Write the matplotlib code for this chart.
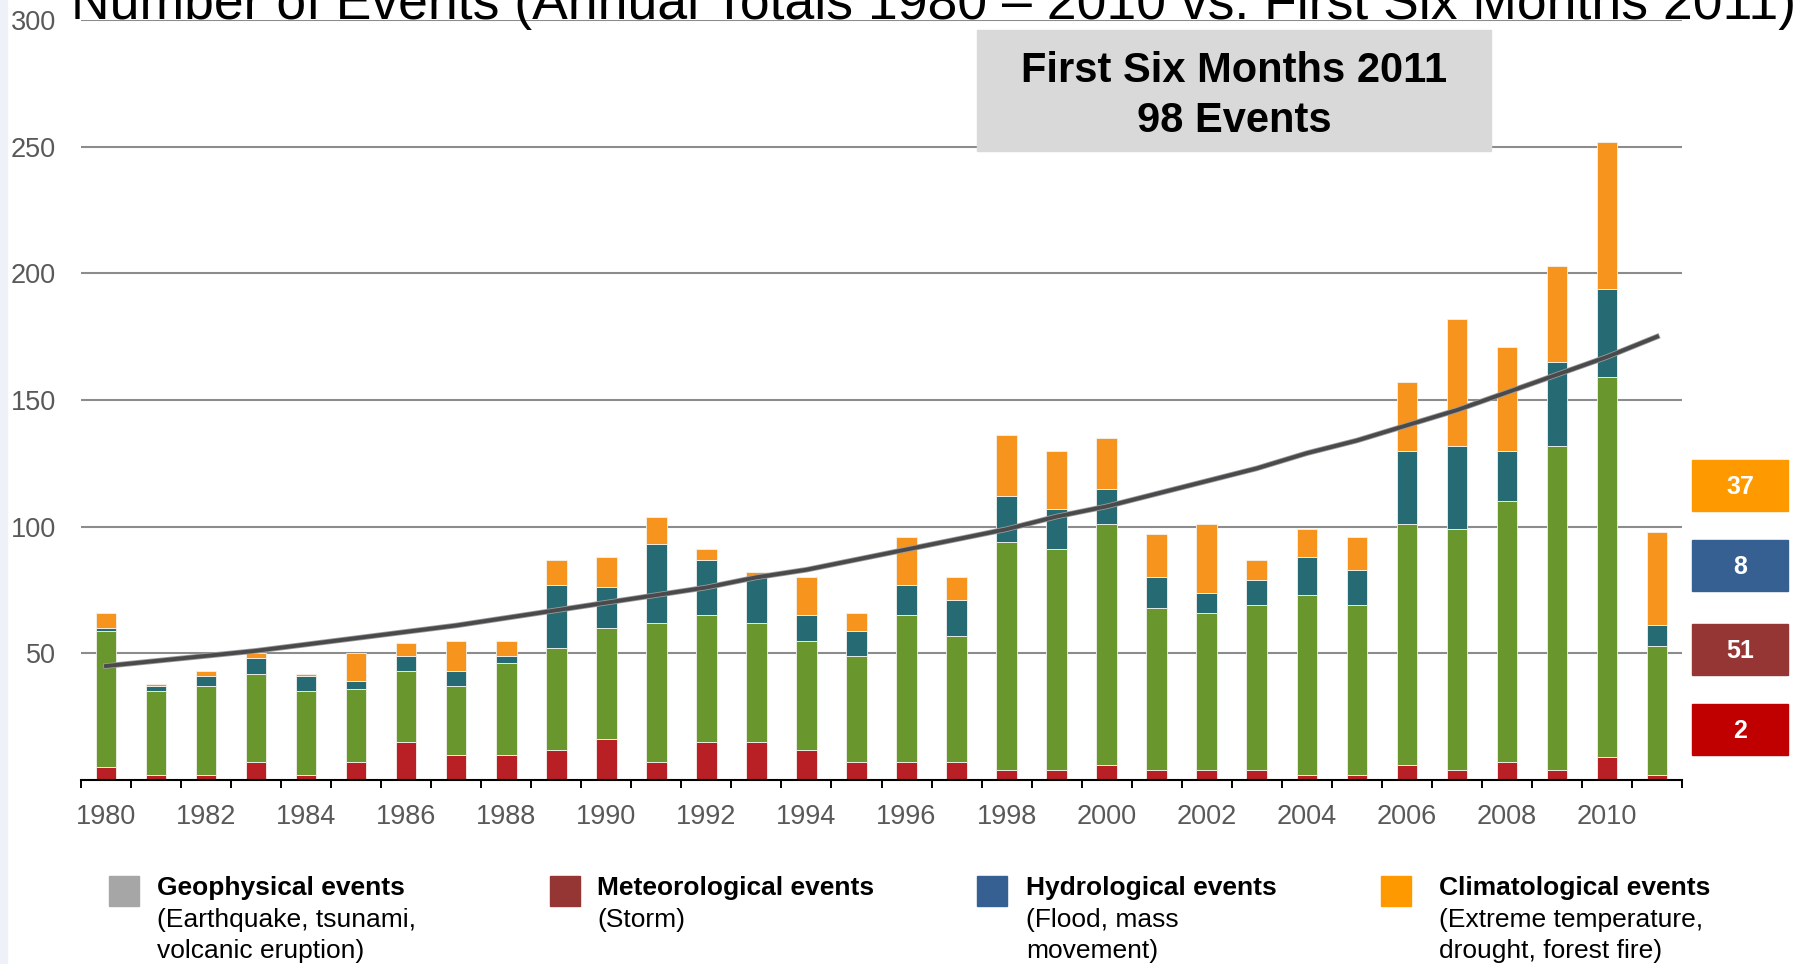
import matplotlib.pyplot as plt
from matplotlib.patches import Rectangle
import matplotlib.patheffects as pe

years = list(range(1980, 2012))

# stacked segments, bottom to top (counts per year)
geophysical = [5, 2, 2, 7, 2, 7, 15, 10, 10, 12, 16, 7, 15, 15, 12, 7,
               7, 7, 4, 4, 6, 4, 4, 4, 2, 2, 6, 4, 7, 4, 9, 2]
meteorological = [54, 33, 35, 35, 33, 29, 28, 27, 36, 40, 44, 55, 50, 47, 43, 42,
                  58, 50, 90, 87, 95, 64, 62, 65, 71, 67, 95, 95, 103, 128, 150, 51]
hydrological = [1, 2, 4, 6, 6, 3, 6, 6, 3, 25, 16, 31, 22, 18, 10, 10,
                12, 14, 18, 16, 14, 12, 8, 10, 15, 14, 29, 33, 20, 33, 35, 8]
climatological = [6, 1, 2, 2, 1, 11, 5, 12, 6, 10, 12, 11, 4, 2, 15, 7,
                  19, 9, 24, 23, 20, 17, 27, 8, 11, 13, 27, 50, 41, 38, 58, 37]

# trend curve
trend = [45, 47, 49, 51, 53.5, 56, 58.5, 61, 64, 67, 70, 73, 76, 80, 83, 87,
         91, 95, 99, 104, 108, 113, 118, 123, 129, 134, 140, 146, 153, 160, 167, 175]

y_ticks = [50, 100, 150, 200, 250, 300]
x_labels = list(range(1980, 2011, 2))

title = "Number of Events (Annual Totals 1980 \u2013 2010 vs. First Six Months 2011)"
legend_titles = ["Geophysical events", "Meteorological events",
                 "Hydrological events", "Climatological events"]
legend_notes = [["(Earthquake, tsunami,", "volcanic eruption)"],
                ["(Storm)"],
                ["(Flood, mass", "movement)"],
                ["(Extreme temperature,", "drought, forest fire)"]]

bar_colors = ["#b82025", "#6a962e", "#266b73", "#f7941d"]
legend_colors = ["#a6a6a6", "#963634", "#376092", "#ff9900"]
box_colors = ["#c00000", "#963634", "#366092", "#ff9900"]

W, H = 1798, 964
plt.rcParams['font.family'] = ['Liberation Sans', 'DejaVu Sans']


def fx(x):
    return x / W


def fy(y):
    return 1 - y / H


fig = plt.figure(figsize=(W / 100, H / 100), dpi=100)
fig.patches.append(Rectangle((0, 0), fx(7), 1, transform=fig.transFigure,
                             color="#eef1f8", zorder=0))
ax = fig.add_axes([fx(81), fy(780), fx(1682 - 81), (780 - 20) / H])

series = [geophysical, meteorological, hydrological, climatological]
bottom = [0] * len(years)
for vals, col in zip(series, bar_colors):
    ax.bar(years, vals, width=0.41, bottom=bottom, color=col,
           edgecolor="#f2f2ee", linewidth=0.6, zorder=2)
    bottom = [b + v for b, v in zip(bottom, vals)]

ax.plot(years, trend, color="#4a4a4c", lw=2.8, zorder=4,
        path_effects=[pe.Stroke(linewidth=4.0, foreground="#9c9c9c"), pe.Normal()])

ax.set_xlim(1979.5, 2011.5)
ax.set_ylim(0, 300)
ax.set_yticks(y_ticks)
ax.set_yticklabels([str(v) for v in y_ticks])
ax.tick_params(axis="y", length=0, pad=18, labelsize=19.5, labelcolor="#595959")
ax.yaxis.grid(True, color="#8c8c8c", lw=1.5)
ax.set_axisbelow(True)

ax.set_xticks([y - 0.5 for y in years] + [years[-1] + 0.5])
ax.set_xticklabels([])
ax.tick_params(axis="x", which="major", length=5.8, width=1.4, color="black")
ax.set_xticks(x_labels, minor=True)
ax.set_xticklabels([str(v) for v in x_labels], minor=True)
ax.tick_params(axis="x", which="minor", length=0, pad=17, labelsize=19.5,
               labelcolor="#595959")

for s in ["left", "right", "top"]:
    ax.spines[s].set_visible(False)
ax.spines["bottom"].set_color("black")
ax.spines["bottom"].set_linewidth(1.5)

# title is cut off by the top edge, as in the source image
fig.text(fx(71), fy(19), title, fontsize=38.5, va="baseline", ha="left", color="black")

# header box for 2011
total_2011 = sum(s[-1] for s in series)
fig.patches.append(Rectangle((fx(977), fy(151)), fx(1491 - 977), (151 - 30) / H,
                             transform=fig.transFigure, color="#d9d9d9", zorder=3))
fig.text(fx(1234), fy(71.5), "First Six Months 2011", fontsize=30, fontweight="bold",
         ha="center", va="center", zorder=4)
fig.text(fx(1234), fy(121.5), f"{total_2011} Events", fontsize=30, fontweight="bold",
         ha="center", va="center", zorder=4)

# 2011 value boxes, top to bottom: climatological ... geophysical
box_tops = [460, 540, 624, 704]
for top, idx in zip(box_tops, [3, 2, 1, 0]):
    fig.patches.append(Rectangle((fx(1692), fy(top + 51)), fx(96), 51 / H,
                                 transform=fig.transFigure, color=box_colors[idx]))
    fig.text(fx(1740), fy(top + 27.5), str(series[idx][-1]), fontsize=18,
             fontweight="bold", color="white", ha="center", va="center")

# legend
sq_x = [109, 550, 977, 1381]
txt_x = [157, 597, 1026, 1439]
for i in range(4):
    fig.patches.append(Rectangle((fx(sq_x[i]), fy(906)), fx(30), 30 / H,
                                 transform=fig.transFigure, color=legend_colors[i]))
    fig.text(fx(txt_x[i]), fy(887.5), legend_titles[i], fontsize=19,
             fontweight="bold", ha="left", va="center")
    for j, line in enumerate(legend_notes[i]):
        fig.text(fx(txt_x[i]), fy(919.6 + 31 * j), line, fontsize=19,
                 ha="left", va="center")

fig.savefig("out.png", dpi=100)
